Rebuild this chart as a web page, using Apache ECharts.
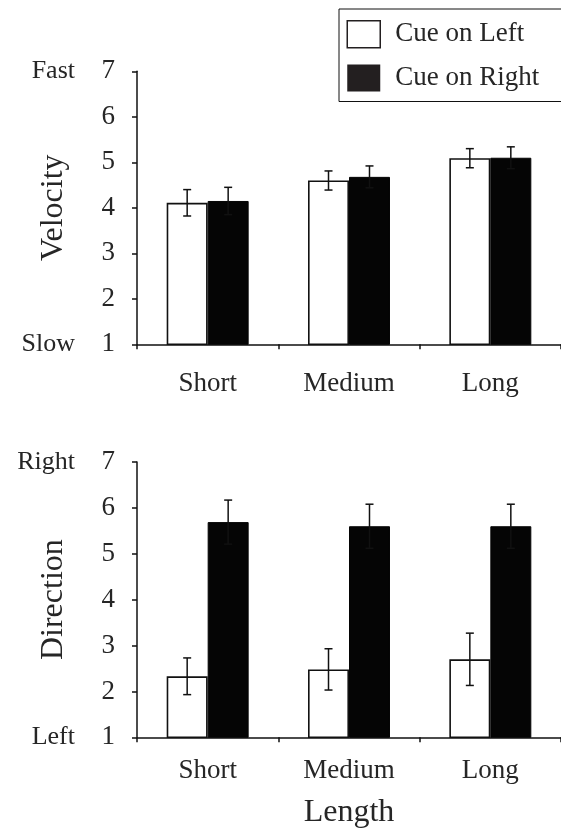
<!DOCTYPE html>
<html>
<head>
<meta charset="utf-8">
<script src="https://cdn.jsdelivr.net/npm/echarts@6/dist/echarts.min.js"></script>
<style>html,body{margin:0;padding:0;background:#fff;}#c{width:561px;height:834px;}</style>
</head>
<body>
<div id="c"></div>
<script>
// ---- data ----
var categories = ['Short', 'Medium', 'Long'];
var seriesNames = ['Cue on Left', 'Cue on Right'];
var yTicks = [1, 2, 3, 4, 5, 6, 7];
var velocityEnds = ['Slow', 'Fast'];
var directionEnds = ['Left', 'Right'];
var xTitle = 'Length';
var topTitle = 'Velocity';
var bottomTitle = 'Direction';

var velocityLeft = [4.11, 4.60, 5.09];
var velocityLeftErr = [0.29, 0.21, 0.21];
var velocityRight = [4.15, 4.68, 5.10];
var velocityRightErr = [0.30, 0.24, 0.24];

var directionLeft = [2.33, 2.48, 2.70];
var directionLeftErr = [0.40, 0.45, 0.57];
var directionRight = [5.69, 5.60, 5.60];
var directionRightErr = [0.48, 0.48, 0.48];

// ---- styling ----
var FONT = 'Liberation Serif';
var TXT = '#262626';
var INK = '#111';
var BAR_FRAC = 0.29;
var yMin = yTicks[0], yMax = yTicks[yTicks.length - 1];

function errData(vals, errs, side) {
  return vals.map(function (v, i) { return [i, v, errs[i], side]; });
}
function renderErr(params, api) {
  var ci = api.value(0), v = api.value(1), e = api.value(2), side = api.value(3);
  var band = api.size([1, 0])[0];
  var off = side * band * BAR_FRAC / 2;
  var t = api.coord([ci, v + e]);
  var b = api.coord([ci, v - e]);
  var x = t[0] + off;
  var cap = 4;
  var st = { stroke: INK, lineWidth: 1.5 };
  return {
    type: 'group',
    children: [
      { type: 'line', shape: { x1: x, y1: t[1], x2: x, y2: b[1] }, style: st },
      { type: 'line', shape: { x1: x - cap, y1: t[1], x2: x + cap, y2: t[1] }, style: st },
      { type: 'line', shape: { x1: x - cap, y1: b[1], x2: x + cap, y2: b[1] }, style: st }
    ]
  };
}

function numAxis(gi, title) {
  return {
    type: 'value', gridIndex: gi, min: yMin, max: yMax, interval: 1,
    name: title, nameLocation: 'middle', nameGap: 67,
    nameTextStyle: { fontFamily: FONT, fontSize: 32, color: TXT },
    axisLine: { show: true, lineStyle: { color: INK, width: 1.5 } },
    axisTick: { show: true, length: 5, lineStyle: { color: INK, width: 1.5 } },
    axisLabel: { margin: 22, fontFamily: FONT, fontSize: 27, color: TXT },
    splitLine: { show: false }
  };
}
function wordAxis(gi, ends) {
  return {
    type: 'value', gridIndex: gi, min: yMin, max: yMax, interval: 1, position: 'left',
    axisLine: { show: false }, axisTick: { show: false }, splitLine: { show: false },
    axisLabel: {
      margin: 62, fontFamily: FONT, fontSize: 26, color: TXT,
      formatter: function (v) { return v === yMin ? ends[0] : (v === yMax ? ends[1] : ''); }
    }
  };
}
function catAxis(gi, margin, withTitle) {
  var a = {
    type: 'category', gridIndex: gi, data: categories,
    axisLine: { show: true, lineStyle: { color: INK, width: 1.5 } },
    axisTick: { show: true, length: 5, interval: 0, lineStyle: { color: INK, width: 1.5 } },
    axisLabel: { margin: margin, interval: 0, fontFamily: FONT, fontSize: 27, color: TXT }
  };
  if (withTitle) {
    a.name = xTitle; a.nameLocation = 'middle'; a.nameGap = 59;
    a.nameTextStyle = { fontFamily: FONT, fontSize: 32, color: TXT };
  }
  return a;
}
function whiteBar(xi, yi, data) {
  return {
    name: seriesNames[0], type: 'bar', xAxisIndex: xi, yAxisIndex: yi, data: data,
    barWidth: (BAR_FRAC * 100) + '%', barGap: '0%',
    itemStyle: { color: '#fff', borderColor: INK, borderWidth: 1.6 },
    emphasis: { disabled: true }, z: 2
  };
}
function blackBar(xi, yi, data) {
  return {
    name: seriesNames[1], type: 'bar', xAxisIndex: xi, yAxisIndex: yi, data: data,
    barWidth: (BAR_FRAC * 100) + '%', barGap: '0%',
    itemStyle: { color: '#050505', borderColor: '#050505', borderWidth: 1 },
    emphasis: { disabled: true }, z: 2
  };
}
function errSeries(xi, yi, data) {
  return {
    type: 'custom', xAxisIndex: xi, yAxisIndex: yi, data: data,
    renderItem: renderErr, z: 5, silent: true
  };
}

var chart = echarts.init(document.getElementById('c'), null, { renderer: 'canvas' });
chart.setOption({
  animation: false,
  backgroundColor: '#fff',
  legend: {
    orient: 'vertical', left: 339, top: 9,
    padding: [11, 60, 10, 7.5],
    borderColor: '#111', borderWidth: 1,
    itemWidth: 33, itemHeight: 27, itemGap: 16,
    selectedMode: false,
    textStyle: { fontFamily: FONT, fontSize: 27, color: TXT, padding: [0, 0, 0, 10] },
    data: [
      { name: seriesNames[0], icon: 'rect', itemStyle: { color: '#fff', borderColor: '#231f20', borderWidth: 1.5 } },
      { name: seriesNames[1], icon: 'rect', itemStyle: { color: '#231f20', borderWidth: 0 } }
    ]
  },
  grid: [
    { left: 137, top: 71.3, width: 429, height: 273 },
    { left: 137, top: 462, width: 429, height: 275.3 }
  ],
  xAxis: [catAxis(0, 26, false), catAxis(1, 20, true)],
  yAxis: [numAxis(0, topTitle), wordAxis(0, velocityEnds), numAxis(1, bottomTitle), wordAxis(1, directionEnds)],
  series: [
    whiteBar(0, 0, velocityLeft),
    blackBar(0, 0, velocityRight),
    errSeries(0, 0, errData(velocityLeft, velocityLeftErr, -1)),
    errSeries(0, 0, errData(velocityRight, velocityRightErr, 1)),
    whiteBar(1, 2, directionLeft),
    blackBar(1, 2, directionRight),
    errSeries(1, 2, errData(directionLeft, directionLeftErr, -1)),
    errSeries(1, 2, errData(directionRight, directionRightErr, 1))
  ]
});
</script>
</body>
</html>
